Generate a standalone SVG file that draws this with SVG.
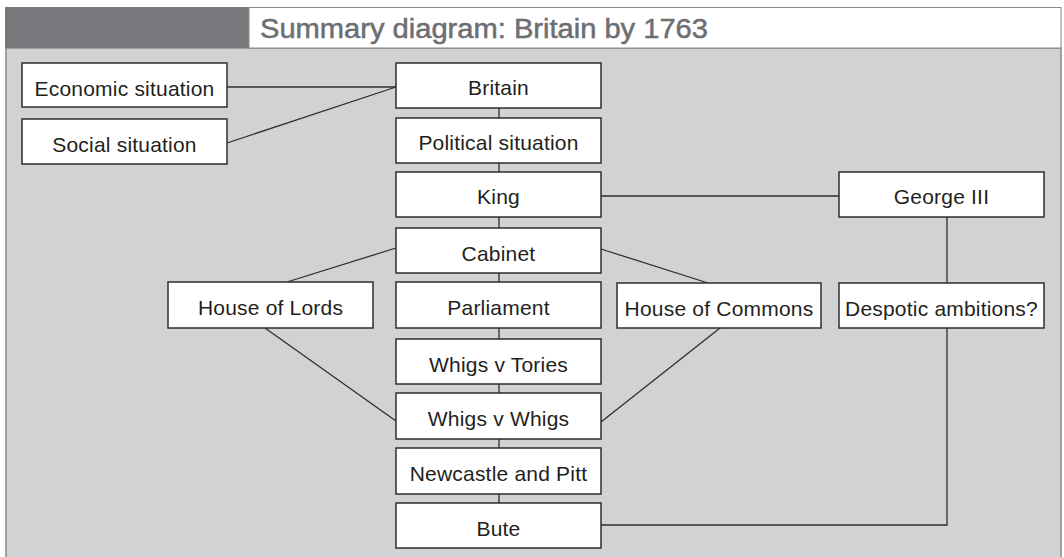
<svg xmlns="http://www.w3.org/2000/svg" width="1064" height="557" viewBox="0 0 1064 557">
  <style>
    .box { fill: #ffffff; stroke: #2e2e2e; stroke-width: 1.5; }
    .lbl { font-family: "Liberation Sans", Arial, sans-serif; font-size: 21px; letter-spacing: 0.2px; fill: #231f20; text-anchor: middle; }
    .link { fill: none; stroke: #2e2e2e; stroke-width: 1.3; }
    .title { font-family: "Liberation Sans", Arial, sans-serif; font-size: 27px; fill: #6d6e71; stroke: #6d6e71; stroke-width: 0.5; }
  </style>

  <!-- page background and frame -->
  <rect x="0" y="0" width="1064" height="557" fill="#ffffff"/>
  <rect x="6" y="48" width="1055" height="512" fill="#d1d2d4" stroke="#8a8a8c" stroke-width="1.5"/>
  <!-- header band -->
  <rect x="5" y="7" width="244" height="41" fill="#77787b"/>
  <rect x="249" y="7.5" width="812" height="40.5" fill="#ffffff" stroke="#8a8a8c" stroke-width="1"/>
  <text class="title" x="260" y="38" textLength="448" lengthAdjust="spacingAndGlyphs">Summary diagram: Britain by 1763</text>

  <!-- connectors -->
  <g id="connectors">
    <line class="link" x1="227" y1="87" x2="396" y2="87"/>
    <line class="link" x1="227" y1="143" x2="396" y2="87"/>
    <line class="link" x1="499" y1="108" x2="499" y2="118"/>
    <line class="link" x1="499" y1="163" x2="499" y2="172"/>
    <line class="link" x1="499" y1="217" x2="499" y2="228"/>
    <line class="link" x1="499" y1="273" x2="499" y2="282"/>
    <line class="link" x1="499" y1="328" x2="499" y2="339"/>
    <line class="link" x1="499" y1="384" x2="499" y2="393"/>
    <line class="link" x1="499" y1="439" x2="499" y2="448"/>
    <line class="link" x1="499" y1="494" x2="499" y2="503"/>
    <line class="link" x1="601" y1="196" x2="839" y2="196"/>
    <line class="link" x1="396" y1="248" x2="287" y2="282"/>
    <line class="link" x1="601" y1="249" x2="708" y2="283"/>
    <line class="link" x1="265" y1="328" x2="396" y2="421"/>
    <line class="link" x1="720" y1="328" x2="601" y2="422"/>
    <line class="link" x1="947" y1="217" x2="947" y2="283"/>
    <polyline class="link" points="947,328 947,525 601,525"/>
  </g>

  <!-- nodes -->
  <g id="economic"><rect class="box" x="22" y="63" width="205" height="44"/><text class="lbl" x="124.5" y="96">Economic situation</text></g>
  <g id="social"><rect class="box" x="22" y="119" width="205" height="45"/><text class="lbl" x="124.5" y="152">Social situation</text></g>
  <g id="britain"><rect class="box" x="396" y="63" width="205" height="45"/><text class="lbl" x="498.5" y="95">Britain</text></g>
  <g id="political"><rect class="box" x="396" y="118" width="205" height="45"/><text class="lbl" x="498.5" y="150">Political situation</text></g>
  <g id="king"><rect class="box" x="396" y="172" width="205" height="45"/><text class="lbl" x="498.5" y="204">King</text></g>
  <g id="george"><rect class="box" x="839" y="172" width="205" height="45"/><text class="lbl" x="941.5" y="204">George III</text></g>
  <g id="cabinet"><rect class="box" x="396" y="228" width="205" height="45"/><text class="lbl" x="498.5" y="261">Cabinet</text></g>
  <g id="lords"><rect class="box" x="168" y="282" width="205" height="46"/><text class="lbl" x="270.5" y="315">House of Lords</text></g>
  <g id="parliament"><rect class="box" x="396" y="282" width="205" height="46"/><text class="lbl" x="498.5" y="315">Parliament</text></g>
  <g id="commons"><rect class="box" x="617" y="283" width="204" height="45"/><text class="lbl" x="719" y="316">House of Commons</text></g>
  <g id="despotic"><rect class="box" x="839" y="283" width="205" height="45"/><text class="lbl" x="941.5" y="316">Despotic ambitions?</text></g>
  <g id="whigs-tories"><rect class="box" x="396" y="339" width="205" height="45"/><text class="lbl" x="498.5" y="372">Whigs v Tories</text></g>
  <g id="whigs-whigs"><rect class="box" x="396" y="393" width="205" height="46"/><text class="lbl" x="498.5" y="426">Whigs v Whigs</text></g>
  <g id="newcastle-pitt"><rect class="box" x="396" y="448" width="205" height="46"/><text class="lbl" x="498.5" y="481">Newcastle and Pitt</text></g>
  <g id="bute"><rect class="box" x="396" y="503" width="205" height="45"/><text class="lbl" x="498.5" y="536">Bute</text></g>
</svg>
